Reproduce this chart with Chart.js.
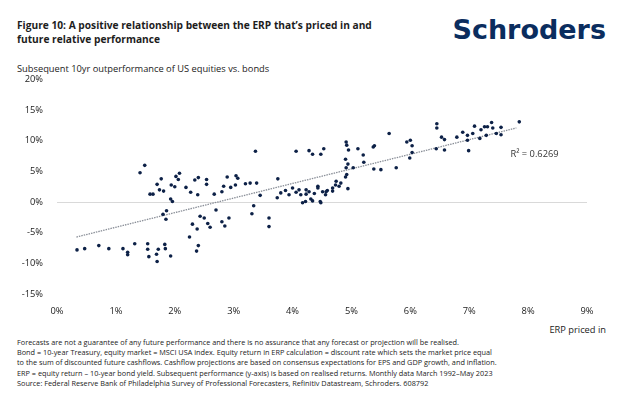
<!DOCTYPE html>
<html>
<head>
<meta charset="utf-8">
<script src="https://cdn.jsdelivr.net/npm/chart.js@4/dist/chart.umd.min.js"></script>
<style>
  body { margin: 0; width: 622px; height: 417px; background: #fff; font-family: "Open Sans", "Noto Sans", sans-serif; color: #222; position: relative; overflow: hidden; }
  .title { position: absolute; left: 17px; top: 18px; font-size: 10.2px; font-weight: bold; line-height: 14px; color: #1d1d1d; }
  .logo { position: absolute; right: 16px; top: 14px; font-family: "DejaVu Sans", sans-serif; font-size: 27px; font-weight: bold; color: #0b2d5e; letter-spacing: 0px; }
  .sub { position: absolute; left: 17px; top: 62px; font-size: 9.3px; color: #222; }
  .xlab { position: absolute; right: 16px; top: 323px; font-size: 9.3px; color: #222; }
  .notes { position: absolute; left: 17px; top: 337px; font-size: 7.3px; line-height: 10.2px; color: #222; }
  #wrap { position: absolute; left: 0; top: 60px; width: 622px; height: 262px; }
</style>
</head>
<body>
<div class="title">Figure 10: A positive relationship between the ERP that’s priced in and<br>future relative performance</div>
<div class="logo">Schroders</div>
<div class="sub">Subsequent 10yr outperformance of US equities vs. bonds</div>
<div class="xlab">ERP priced in</div>
<div class="notes">Forecasts are not a guarantee of any future performance and there is no assurance that any forecast or projection will be realised.<br>
Bond = 10-year Treasury, equity market = MSCI USA index. Equity return in ERP calculation = discount rate which sets the market price equal<br>
to the sum of discounted future cashflows. Cashflow projections are based on consensus expectations for EPS and GDP growth, and inflation.<br>
ERP = equity return – 10-year bond yield. Subsequent performance (y-axis) is based on realised returns. Monthly data March 1992–May 2023<br>
Source: Federal Reserve Bank of Philadelphia Survey of Professional Forecasters, Refinitiv Datastream, Schroders. 608792</div>
<div id="wrap"><canvas id="myChart"></canvas></div>
<script>
// ERP priced in (%), subsequent 10yr outperformance (%)
const erp = [0.34,0.47,0.71,0.88,1.12,1.2,1.2,1.32,1.41,1.49,1.54,1.54,1.56,1.69,1.7,1.72,1.83,1.84,1.93,
  1.58,1.63,1.7,1.74,1.77,1.81,1.94,2.0,2.02,2.06,2.08,2.19,2.27,2.39,
  1.93,1.96,1.86,1.8,1.85,
  2.25,2.3,2.38,2.4,2.37,2.43,2.5,2.56,2.6,2.7,2.8,2.85,2.92,
  2.34,2.4,2.54,2.54,2.67,2.8,2.83,2.89,2.95,3.04,3.07,3.03,3.2,3.28,3.39,3.45,3.37,3.34,3.31,3.6,3.6,3.75,
  3.74,3.8,3.88,3.94,4.0,4.06,4.11,4.14,4.22,4.23,4.28,4.31,4.37,4.43,4.47,4.51,4.56,4.59,4.68,4.73,
  4.06,4.28,4.34,4.48,4.53,
  4.17,4.23,4.34,4.48,4.43,4.57,4.68,4.74,4.79,4.82,4.94,
  4.91,4.92,4.95,4.9,4.94,4.91,4.92,4.9,5.03,5.11,5.2,5.21,5.37,5.39,5.38,5.5,5.64,5.76,
  5.94,6.0,6.03,5.99,6.03,6.45,6.45,6.44,6.53,6.58,6.58,6.79,6.89,6.97,6.97,6.99,
  7.06,7.09,7.18,7.2,7.26,7.29,7.31,7.38,7.4,7.46,7.54,7.54,7.85];
const outperf = [-7.8,-7.6,-7.1,-7.6,-7.6,-8.2,-8.6,-6.8,4.8,6.0,-6.8,-7.7,-8.9,-8.5,-9.7,-7.7,-6.9,-7.6,-8.8,
  1.3,1.3,2.9,2.0,3.8,1.8,2.8,2.5,4.2,3.7,4.7,2.4,1.6,1.2,
  0.5,0.1,-1.4,-2.0,-2.8,
  -5.7,-3.6,-4.4,-7.1,-8.0,-2.3,-2.6,-3.5,-4.1,-1.3,-3.2,-3.9,-2.6,
  3.6,4.0,3.7,2.9,1.3,1.7,2.6,4.1,2.4,4.3,3.9,2.8,3.0,3.1,3.1,1.1,8.3,-0.6,-1.9,-2.6,-4.0,3.8,
  0.7,1.5,1.9,1.2,2.3,1.6,2.0,1.2,0.1,2.0,1.7,0.5,1.4,2.6,0.1,1.7,1.2,1.9,2.3,2.8,
  8.3,8.4,7.8,7.8,8.7,
  -0.1,1.3,0.2,-0.1,2.3,1.7,1.8,3.4,2.6,3.1,2.2,
  9.8,9.3,8.5,7.0,6.2,5.6,4.5,4.1,5.6,8.7,7.7,6.5,9.0,9.2,5.4,5.3,11.2,5.6,
  9.8,10.1,9.2,7.2,8.1,12.8,12.1,8.7,10.6,10.2,8.5,10.6,11.4,10.9,10.1,8.4,
  11.2,12.4,10.4,11.8,12.3,10.9,12.3,13.0,12.1,11.2,12.2,11.0,13.1];
// linear trend line endpoints
const trendX = [0.33, 7.8];
const trendY = [-5.7, 12.1];
const yTicks = [-15,-10,-5,0,5,10,15,20];

const font = { family: '"Open Sans", "Noto Sans", sans-serif', size: 9.3 };

const config = {
	type: 'scatter',
	data: {
		datasets: [{
			data: erp.map((x, i) => ({x: x, y: outperf[i]})),
			backgroundColor: '#0d2147',
			borderWidth: 0,
			pointRadius: 1.8,
			order: 1
		}, {
			type: 'line',
			data: trendX.map((x, i) => ({x: x, y: trendY[i]})),
			borderColor: '#8a8f98',
			borderWidth: 1.3,
			borderDash: [1.5, 1],
			pointRadius: 0,
			order: 2
		}]
	},
	options: {
		responsive: true,
		maintainAspectRatio: false,
		animation: false,
		layout: { padding: { top: 0, right: 35, left: 0, bottom: 0 } },
		plugins: { legend: { display: false }, tooltip: { enabled: false } },
		scales: {
			x: {
				type: 'linear', min: 0, max: 9,
				grid: { display: false },
				border: { display: false },
				ticks: { stepSize: 1, color: '#222', font: font, padding: 4, callback: v => v + '%' },
				afterFit: s => { s.height = 28; }
			},
			y: {
				min: -15, max: 20,
				afterBuildTicks: s => { s.ticks = yTicks.map(v => ({value: v})); },
				grid: { color: c => c.tick.value === 0 ? '#d9d9d9' : 'transparent', drawTicks: false, lineWidth: 1 },
				border: { display: false },
				ticks: { color: '#222', font: font, padding: 14, callback: v => v + '%' },
				afterFit: s => { s.width = 57; }
			}
		}
	},
	plugins: [{
		id: 'r2',
		afterDatasetsDraw(chart) {
			const {ctx, scales: {x, y}} = chart;
			ctx.save();
			ctx.fillStyle = '#333';
			ctx.font = '9.3px "Open Sans", "Noto Sans", sans-serif';
			ctx.textBaseline = 'middle';
			ctx.fillText('R² = 0.6269', x.getPixelForValue(7.7), y.getPixelForValue(7.8));
			ctx.restore();
		}
	}]
};

const chartt = new Chart(document.getElementById('myChart'), config);
</script>
</body>
</html>
